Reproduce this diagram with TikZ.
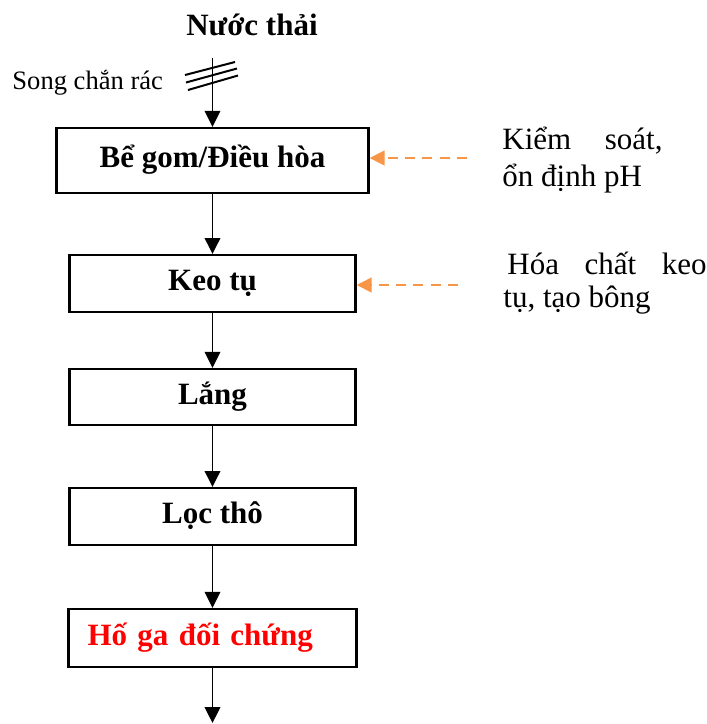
\documentclass[tikz,border=0pt]{standalone}
\usepackage{fontspec}
\setmainfont{Liberation Serif}
\usetikzlibrary{arrows.meta}
\definecolor{orangeacc}{RGB}{247,150,70}
\definecolor{redtxt}{RGB}{255,0,0}
\begin{document}
\begin{tikzpicture}[x=0.4516pt,y=-0.4516pt,
  box/.style={draw=black,line width=1pt,inner sep=0pt,
    font=\fontsize{14}{16}\selectfont\bfseries,text height=0.66em,text depth=0pt},
  arr/.style={line width=0.9pt,-{Triangle[length=7.2pt,width=7pt]}},
  oarr/.style={orangeacc,line width=1.25pt,dash pattern=on 4.6pt off 3.2pt,-{Triangle[length=6.8pt,width=6.6pt]}},
  lbl/.style={inner sep=0pt,anchor=base west,font=\fontsize{14}{16}\selectfont}]
\useasboundingbox (0,0) rectangle (707,724);
\node[inner sep=0pt,anchor=base,font=\fontsize{14}{16}\selectfont\bfseries] (title) at (252,35) {Nước thải};
\node[inner sep=0pt,anchor=base west,font=\fontsize{12}{14}\selectfont] (song) at (12,89) {Song chắn rác};
% screen bars
\draw[line width=0.9pt] (185,75) -- (235,62);
\draw[line width=0.9pt] (186,82.5) -- (237,68.5);
\draw[line width=0.9pt] (188,90) -- (238,75.5);
\coordinate (top) at (212.5,58);
\node[box,minimum width=140.9pt,minimum height=29.4pt] (b1) at (212.5,160.5) {Bể gom/Điều hòa};
\node[box,minimum width=129.2pt,minimum height=25.7pt] (b2) at (212.5,283.5) {Keo tụ};
\node[box,minimum width=129.2pt,minimum height=25.3pt] (b3) at (212.5,397) {Lắng};
\node[box,minimum width=129.2pt,minimum height=25.7pt] (b4) at (212.5,516.5) {Lọc thô};
\node[box,minimum width=130.1pt,minimum height=26.2pt,text width=112.9pt,align=left,inner xsep=8.6pt,text=redtxt] (b5) at (212.5,638) {Hố ga đối chứng};
\coordinate (bot) at (212.5,723);
\draw[arr] (top) -- (b1.north);
\draw[arr] (b1.south) -- (b2.north);
\draw[arr] (b2.south) -- (b3.north);
\draw[arr] (b3.south) -- (b4.north);
\draw[arr] (b4.south) -- (b5.north);
\draw[arr] (b5.south) -- (bot);
% chemical inputs
\coordinate (o1) at (467,158);
\coordinate (o2) at (458,285);
\draw[oarr] (o1) -- (o1 -| b1.east);
\draw[oarr] (o2) -- (o2 -| b2.east);
\node[lbl] (t1) at (502,149) {\hbox to 72.3pt{Kiểm\hfill soát,}};
\node[lbl] (t2) at (502,186.5) {ổn định pH};
\node[lbl] (t3) at (507,274) {\hbox to 89.9pt{Hóa\hfill chất\hfill keo}};
\node[lbl] (t4) at (503,307) {tụ, tạo bông};
\end{tikzpicture}
\end{document}
